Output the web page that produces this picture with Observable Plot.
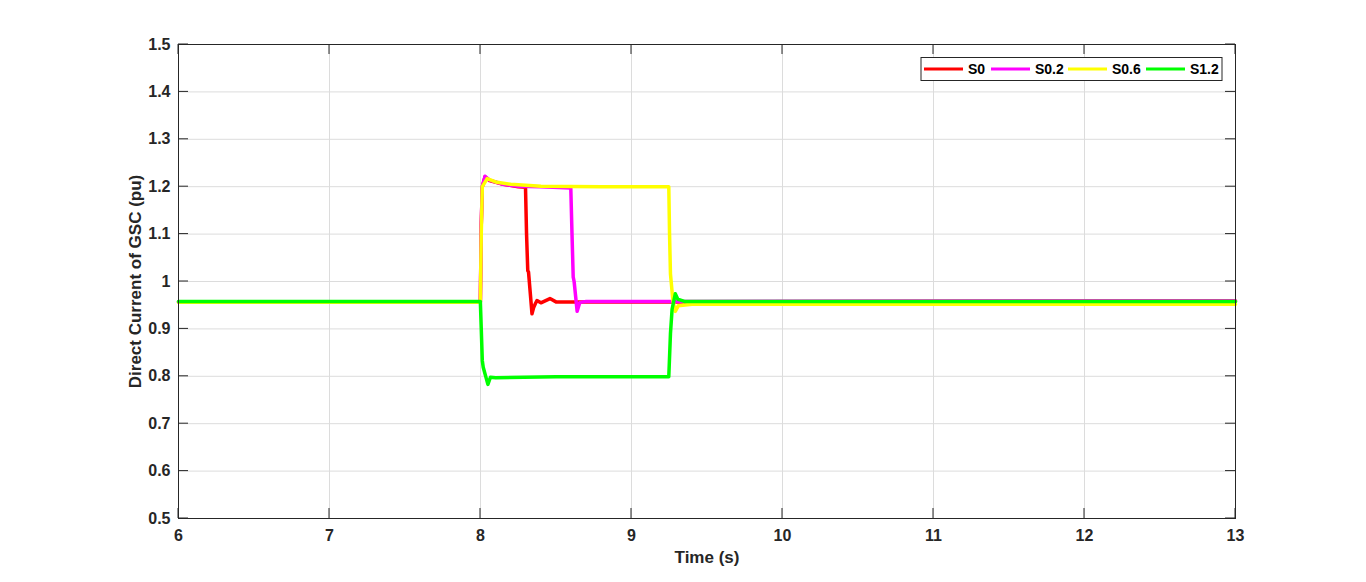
<!DOCTYPE html>
<html>
<head>
<meta charset="utf-8">
<script src="https://cdn.jsdelivr.net/npm/d3@7"></script>
<script src="https://cdn.jsdelivr.net/npm/@observablehq/plot@0.6"></script>
<style>
  html, body { margin: 0; padding: 0; background: #fff; }
  svg { display: block; }
</style>
</head>
<body>
<div id="chart"></div>
<script>
// ---- data ----
const seriesNames = ["S0", "S0.2", "S0.6", "S1.2"];
const seriesColors = ["#ff0000", "#ff00ff", "#ffff00", "#00ff00"];

const xTicks = [6, 7, 8, 9, 10, 11, 12, 13];
const yTicks = [0.5, 0.6, 0.7, 0.8, 0.9, 1, 1.1, 1.2, 1.3, 1.4, 1.5];

const time_S0  = [6, 7.999, 8.005, 8.012, 8.03, 8.06, 8.15, 8.25, 8.298, 8.305, 8.313, 8.318, 8.341, 8.352, 8.363, 8.374, 8.4, 8.46, 8.5, 9.3, 13];
const value_S0 = [0.957, 0.957, 1.12, 1.2, 1.221, 1.213, 1.205, 1.2, 1.199, 1.1, 1.023, 1.02, 0.932, 0.945, 0.953, 0.96, 0.955, 0.964, 0.957, 0.957, 0.959];

const time_S02  = [6, 7.999, 8.005, 8.012, 8.03, 8.06, 8.15, 8.25, 8.4, 8.598, 8.606, 8.614, 8.62, 8.64, 8.65, 8.658, 8.7, 9.3, 13];
const value_S02 = [0.957, 0.957, 1.12, 1.2, 1.222, 1.214, 1.205, 1.201, 1.2, 1.197, 1.1, 1.009, 1.0, 0.937, 0.948, 0.956, 0.958, 0.958, 0.959];

const time_S06  = [6, 7.999, 8.005, 8.012, 8.044, 8.1, 8.2, 8.4, 8.8, 9.247, 9.252, 9.258, 9.274, 9.29, 9.31, 9.4, 13];
const value_S06 = [0.956, 0.956, 1.1, 1.2, 1.217, 1.21, 1.205, 1.201, 1.2, 1.2, 1.1, 1.016, 0.96, 0.937, 0.949, 0.952, 0.952];

const time_S12  = [6, 7.999, 8.005, 8.012, 8.018, 8.049, 8.066, 8.1, 8.5, 9.0, 9.247, 9.258, 9.269, 9.29, 9.306, 9.35, 13];
const value_S12 = [0.958, 0.958, 0.9, 0.833, 0.819, 0.783, 0.798, 0.797, 0.799, 0.799, 0.799, 0.89, 0.942, 0.974, 0.963, 0.958, 0.958];

// ---- build tables ----
function rows(name, ts, vs) { return ts.map((t, i) => ({series: name, t, v: vs[i]})); }
const data = [
  rows("S0", time_S0, value_S0),
  rows("S0.2", time_S02, value_S02),
  rows("S0.6", time_S06, value_S06),
  rows("S1.2", time_S12, value_S12)
];

const FONT = "'Liberation Sans', Arial, Helvetica, sans-serif";
const INK = "#262626";

const chart = Plot.plot({
  width: 1366,
  height: 582,
  marginLeft: 178,
  marginRight: 131,
  marginTop: 44,
  marginBottom: 64,
  style: {fontFamily: FONT, background: "#fff", overflow: "visible"},
  x: {domain: [6, 13]},
  y: {domain: [0.5, 1.5]},
  color: {domain: seriesNames, range: seriesColors},
  marks: [
    Plot.gridX(xTicks, {stroke: "#dcdcdc", strokeOpacity: 1, strokeWidth: 1}),
    Plot.gridY(yTicks, {stroke: "#dcdcdc", strokeOpacity: 1, strokeWidth: 1}),
    ...data.map(d => Plot.line(d, {x: "t", y: "v", stroke: "series", strokeWidth: 3.5, strokeLinejoin: "round", strokeLinecap: "round"})),
    Plot.frame({stroke: INK, strokeWidth: 1}),
    Plot.axisX(xTicks, {tickSize: 0, tickPadding: 11, fontSize: 16, fontWeight: "bold", fill: INK, label: null, tickFormat: d => String(d)}),
    Plot.axisY(yTicks, {tickSize: 0, tickPadding: 8, fontSize: 16, fontWeight: "bold", fill: INK, label: null, tickFormat: d => String(d)}),
    Plot.text(["Time (s)"], {frameAnchor: "bottom", textAnchor: "middle", lineAnchor: "middle", dy: 39, fontSize: 17, fontWeight: "bold", fill: INK}),
    Plot.text(["Direct Current of GSC (pu)"], {frameAnchor: "left", textAnchor: "middle", lineAnchor: "middle", dx: -43, rotate: -90, fontSize: 17, fontWeight: "bold", fill: INK})
  ]
});

document.getElementById("chart").appendChild(chart);

// ---- inward ticks on all four sides (MATLAB style) ----
const sx = chart.scale("x"), sy = chart.scale("y");
const x0 = sx.apply(6), x1 = sx.apply(13);
const yB = sy.apply(0.5), yT = sy.apply(1.5);
const svg = d3.select(chart);
const tg = svg.append("g").attr("stroke", INK).attr("stroke-width", 1);
const TL = 10;
xTicks.forEach(t => {
  const px = sx.apply(t);
  tg.append("line").attr("x1", px).attr("x2", px).attr("y1", yB).attr("y2", yB - TL);
  tg.append("line").attr("x1", px).attr("x2", px).attr("y1", yT).attr("y2", yT + TL);
});
yTicks.forEach(v => {
  const py = sy.apply(v);
  tg.append("line").attr("x1", x0).attr("x2", x0 + TL).attr("y1", py).attr("y2", py);
  tg.append("line").attr("x1", x1).attr("x2", x1 - TL).attr("y1", py).attr("y2", py);
});

// ---- legend (top-right, inside axes) ----
const lg = svg.append("g").attr("font-family", FONT).attr("font-size", 14).attr("font-weight", "bold")
  .attr("fill", "#000").attr("text-anchor", "start");
lg.append("rect").attr("x", 921).attr("y", 57.5).attr("width", 301).attr("height", 23)
  .attr("fill", "#fff").attr("stroke", INK).attr("stroke-width", 1);
const entryX = [924, 991, 1068, 1146];
seriesNames.forEach((name, i) => {
  const ex = entryX[i];
  lg.append("line").attr("x1", ex).attr("x2", ex + 39).attr("y1", 69).attr("y2", 69)
    .attr("stroke", seriesColors[i]).attr("stroke-width", 3);
  lg.append("text").attr("x", ex + 44).attr("y", 69).attr("dy", "0.36em").text(name);
});
</script>
</body>
</html>
